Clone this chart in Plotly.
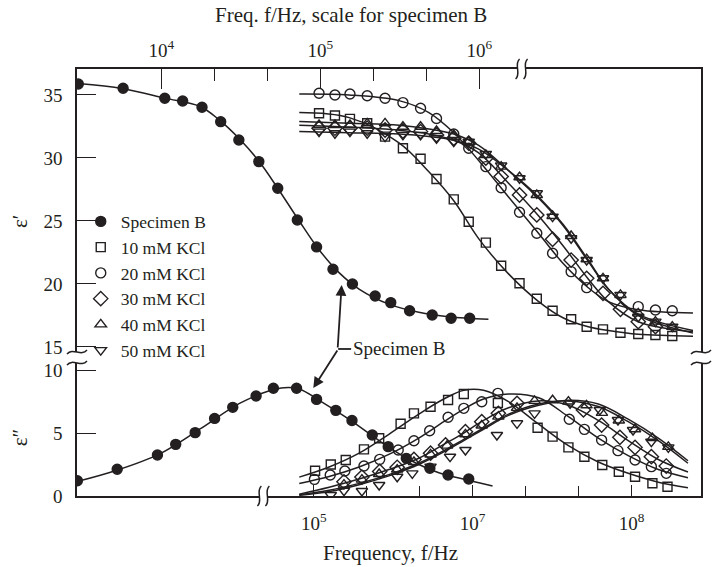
import numpy as np
import plotly.graph_objects as go

INK = "#231f20"
FONT = "Liberation Serif"

# ---------------- Specimen B (top frequency scale) ----------------
specB_f_eps1 = [3.0e3, 5.74e3, 1.05e4, 1.36e4, 1.80e4, 2.36e4, 3.07e4, 4.10e4, 5.39e4, 7.16e4,
                9.46e4, 1.20e5, 1.59e5, 2.21e5, 2.77e5, 3.64e5, 5.05e5, 6.64e5, 8.69e5]
specB_eps1 = [35.87, 35.53, 34.74, 34.52, 34.02, 32.88, 31.43, 29.71, 27.60, 25.08,
              22.94, 21.17, 20.0, 19.05, 18.52, 17.88, 17.54, 17.28, 17.28]
specB_fit1_f = [2.99e3, 5.71e3, 1.05e4, 1.74e4, 2.32e4, 3.10e4, 4.13e4, 5.52e4, 7.36e4, 9.83e4,
                1.31e5, 1.75e5, 2.70e5, 4.16e5, 6.41e5, 1.14e6]
specB_fit1 = [35.9, 35.5, 34.75, 34.1, 33.0, 31.5, 29.7, 27.4, 25.0, 22.7,
              20.9, 19.6, 18.4, 17.75, 17.4, 17.2]

specB_f_eps2 = [2.96e3, 5.27e3, 9.44e3, 1.23e4, 1.63e4, 2.16e4, 2.81e4, 3.94e4, 5.06e4, 7.08e4,
                9.46e4, 1.25e5, 1.58e5, 2.12e5, 2.67e5, 3.47e5, 4.88e5, 6.35e5, 8.57e5]
specB_eps2 = [1.21, 2.12, 3.25, 4.10, 5.03, 6.16, 7.04, 7.94, 8.55, 8.55,
              7.67, 6.8, 6.0, 4.84, 3.92, 2.99, 2.20, 1.67, 1.35]
specB_fit2_f = [2.94e3, 5.24e3, 9.75e3, 1.74e4, 3.10e4, 4.78e4, 5.93e4, 7.36e4, 9.83e4, 1.51e5,
                2.34e5, 3.61e5, 5.56e5, 8.57e5, 1.21e6]
specB_fit2 = [1.15, 2.05, 3.35, 5.3, 7.35, 8.35, 8.6, 8.5, 7.6, 6.1,
              4.4, 2.9, 1.85, 1.25, 0.8]

# ---------------- KCl suspensions (bottom frequency scale) ----------------
# eps' (top panel)
k10_f1 = [1.08e6, 1.36e6, 1.69e6, 2.17e6, 2.81e6, 3.64e6, 4.70e6, 5.92e6, 7.60e6, 9.44e6, 1.21e7,
          1.51e7, 1.97e7, 2.53e7, 3.18e7, 4.16e7, 5.21e7, 6.6e7, 8.5e7, 1.10e8, 1.41e8, 1.80e8]
k10_e1 = [33.55, 33.37, 33.1, 32.75, 31.69, 30.77, 29.94, 28.33, 26.71, 24.94, 23.28,
          21.45, 20.06, 18.83, 17.88, 17.2, 16.61, 16.40, 16.13, 16.03, 15.95, 15.87]
k20_f1 = [1.08e6, 1.36e6, 1.69e6, 2.17e6, 2.81e6, 3.64e6, 4.70e6, 5.92e6, 7.60e6, 9.44e6, 1.21e7,
          1.51e7, 1.97e7, 2.53e7, 3.18e7, 4.16e7, 5.21e7, 1.10e8, 1.41e8, 1.80e8]
k20_e1 = [35.13, 35.0, 35.08, 34.94, 34.74, 34.39, 33.94, 33.13, 31.9, 30.77, 29.31,
          27.64, 25.69, 24.02, 22.44, 20.98, 19.71, 18.20, 17.94, 17.88]
k30_f1 = [1.08e6, 1.36e6, 1.69e6, 2.17e6, 2.81e6, 3.64e6, 4.70e6, 5.92e6, 7.60e6, 9.44e6, 1.21e7,
          1.51e7, 1.97e7, 2.53e7, 3.18e7, 4.16e7, 5.21e7, 6.6e7, 8.5e7, 1.10e8, 1.41e8]
k30_e1 = [32.36, 32.36, 32.36, 32.36, 32.22, 32.14, 32.09, 31.83, 31.56, 31.17, 29.98,
          28.52, 27.06, 25.48, 23.55, 21.90, 20.45, 19.26, 17.99, 17.01, 16.61]
k40_f1 = [1.08e6, 1.36e6, 1.69e6, 2.17e6, 2.81e6, 3.64e6, 4.70e6, 5.92e6, 7.60e6, 9.44e6, 1.21e7,
          1.51e7, 1.97e7, 2.53e7, 3.18e7, 4.16e7, 5.21e7, 6.6e7, 8.5e7, 1.10e8, 1.41e8, 1.80e8]
k40_e1 = [32.62, 32.62, 32.62, 32.75, 32.75, 32.48, 32.48, 32.14, 31.83, 31.29, 30.24,
          29.31, 28.47, 27.06, 25.40, 23.81, 21.96, 20.45, 19.13, 17.67, 17.01, 16.61]
k50_f1 = [1.08e6, 1.36e6, 1.69e6, 2.17e6, 2.81e6, 3.64e6, 4.70e6, 5.92e6, 7.60e6, 9.44e6, 1.21e7,
          1.51e7, 1.97e7, 2.53e7, 3.18e7, 4.16e7, 5.21e7, 6.6e7, 8.5e7, 1.10e8, 1.41e8, 1.80e8]
k50_e1 = [32.09, 31.96, 32.09, 31.96, 31.69, 31.83, 31.83, 31.56, 31.29, 31.29, 30.32,
          29.4, 28.39, 27.20, 25.34, 23.63, 21.90, 20.45, 19.13, 17.40, 17.01, 16.61]

fit_top_f = [8.11e5, 1.67e6, 3.44e6, 5.30e6, 7.60e6, 1.09e7, 1.68e7, 2.60e7, 3.72e7, 5.33e7,
             7.13e7, 1.10e8, 2.43e8]
fit10_top = [33.6, 33.2, 31.2, 28.9, 26.6, 23.6, 20.8, 18.6, 17.3, 16.6, 16.3, 16.0, 15.85]
fit20_top = [35.08, 35.0, 34.55, 33.6, 32.0, 29.8, 26.9, 24.0, 21.6, 19.7, 18.6, 17.95, 17.7]
fit30_top = [32.6, 32.45, 32.2, 31.9, 31.4, 30.4, 28.0, 25.4, 23.0, 20.4, 18.6, 17.0, 16.2]
fit40_top = [32.9, 32.75, 32.6, 32.3, 31.9, 31.0, 29.0, 26.8, 24.6, 21.8, 19.6, 17.6, 16.3]
fit50_top = [32.1, 32.0, 31.9, 31.7, 31.4, 30.7, 29.0, 26.9, 24.7, 21.9, 19.6, 17.5, 16.1]

# eps'' (bottom panel)
k10_f2 = [1.02e6, 1.28e6, 1.59e6, 2.07e6, 2.58e6, 3.52e6, 4.27e6, 5.43e6, 7.0e6, 8.79e6,
          1.44e7, 2.56e7, 3.18e7, 4.0e7, 5.04e7, 6.53e7, 8.3e7, 1.05e8, 1.35e8, 1.68e8]
k10_e2 = [2.01, 2.5, 2.86, 3.7, 4.58, 5.74, 6.56, 7.09, 7.62, 8.10,
          7.38, 5.42, 4.71, 3.86, 3.12, 2.46, 1.93, 1.53, 1.01, 0.74]
k20_f2 = [1.01e6, 1.27e6, 1.57e6, 2.07e6, 2.60e6, 3.40e6, 4.27e6, 5.36e6, 7.0e6, 8.79e6,
          1.14e7, 1.44e7, 4.05e7, 5.04e7, 6.47e7, 8.2e7, 1.05e8, 1.33e8, 1.65e8]
k20_e2 = [1.32, 1.67, 1.98, 2.38, 2.91, 3.65, 4.39, 5.18, 6.25, 6.96,
          7.48, 8.15, 6.09, 5.29, 4.44, 3.60, 2.86, 2.33, 1.80]
k30_f2 = [1.55e6, 2.01e6, 2.60e6, 3.35e6, 4.27e6, 5.43e6, 6.75e6, 9.0e6, 1.14e7, 1.45e7,
          1.90e7, 4.97e7, 6.47e7, 8.43e7, 1.05e8, 1.33e8, 1.65e8]
k30_e2 = [1.13, 1.5, 1.95, 2.28, 2.9, 3.4, 4.05, 5.10, 5.90, 6.56,
          7.36, 6.83, 5.63, 4.66, 3.86, 3.12, 2.38]
k40_f2 = [1.55e6, 2.01e6, 2.58e6, 3.35e6, 4.27e6, 5.43e6, 6.9e6, 9.0e6, 1.14e7, 1.45e7,
          1.90e7, 2.45e7, 3.18e7, 4.0e7, 5.2e7, 6.5e7, 8.3e7, 1.05e8, 1.35e8, 1.70e8]
k40_e2 = [0.9, 1.3, 1.75, 2.1, 2.7, 3.3, 4.0, 4.9, 5.6, 6.3,
          7.0, 7.55, 7.6, 7.5, 7.2, 6.6, 6.0, 5.3, 4.6, 3.9]
k50_f2 = [1.28e6, 1.55e6, 2.01e6, 2.58e6, 3.35e6, 4.17e6, 5.43e6, 7.2e6, 9.0e6, 1.42e7,
          1.90e7, 2.45e7, 4.1e7, 6.3e7, 8.2e7, 1.02e8, 1.33e8, 1.70e8]
k50_e2 = [0.08, 0.42, 0.4, 0.87, 1.53, 1.80, 2.33, 3.12, 3.65, 4.84,
          5.77, 6.56, 7.36, 6.83, 6.03, 5.24, 4.31, 3.86]

fit_bot_f = [8.11e5, 1.25e6, 1.93e6, 2.97e6, 4.58e6, 6.58e6, 8.79e6, 1.17e7, 1.68e7, 2.60e7,
             4.00e7, 6.17e7, 9.51e7, 1.47e8, 2.26e8]
fit10_bot = [1.5, 2.3, 3.4, 4.9, 6.5, 7.7, 8.4, 8.4, 7.5, 5.7, 4.0, 2.7, 1.8, 1.1, 0.65]
fit20_bot = [1.0, 1.55, 2.3, 3.3, 4.6, 5.9, 6.9, 7.7, 8.1, 7.8, 6.3, 4.6, 3.2, 2.1, 1.45]
fit30_bot = [0.15, 0.7, 1.35, 2.1, 3.0, 4.1, 5.0, 6.0, 7.0, 7.55, 7.2, 6.0, 4.4, 2.9, 1.9]
fit40_bot = [0.1, 0.45, 1.0, 1.7, 2.6, 3.6, 4.5, 5.4, 6.5, 7.3, 7.55, 7.1, 5.9, 4.4, 2.6]
fit50_bot = [0.05, 0.35, 0.9, 1.6, 2.5, 3.5, 4.4, 5.3, 6.4, 7.2, 7.6, 7.3, 6.1, 4.6, 2.8]

# axis tick labels
top_tickvals = [1e4, 1e5, 1e6]
top_ticktext = ["10<sup>4</sup>", "10<sup>5</sup>", "10<sup>6</sup>"]
bot_tickvals = [1e6, 1e7, 1e8]
bot_ticktext = ["10<sup>5</sup>", "10<sup>7</sup>", "10<sup>8</sup>"]

fig = go.Figure()


def line(xs, ys, xa, ya):
    fig.add_trace(go.Scatter(x=xs, y=ys, mode="lines", xaxis=xa, yaxis=ya,
                             line=dict(color=INK, width=1.5, shape="spline", smoothing=1.0),
                             showlegend=False, hoverinfo="skip"))


def pts(xs, ys, xa, ya, sym, size, name, show):
    fig.add_trace(go.Scatter(x=xs, y=ys, mode="markers", xaxis=xa, yaxis=ya, name=name,
                             showlegend=show,
                             marker=dict(symbol=sym, size=size, color=INK,
                                         line=dict(color=INK, width=1.4))))


# fit lines
line(specB_fit1_f, specB_fit1, "x2", "y")
line(specB_fit2_f, specB_fit2, "x2", "y2")
for fy in (fit10_top, fit20_top, fit30_top, fit40_top, fit50_top):
    line(fit_top_f, fy, "x", "y")
for fy in (fit10_bot, fit20_bot, fit30_bot, fit40_bot, fit50_bot):
    line(fit_bot_f, fy, "x", "y2")

# markers
pts(specB_f_eps1, specB_eps1, "x2", "y", "circle", 10, "Specimen B", True)
pts(specB_f_eps2, specB_eps2, "x2", "y2", "circle", 10, "Specimen B", False)
series = [
    (k10_f1, k10_e1, k10_f2, k10_e2, "square-open", 9, "10 mM KCl"),
    (k20_f1, k20_e1, k20_f2, k20_e2, "circle-open", 10, "20 mM KCl"),
    (k30_f1, k30_e1, k30_f2, k30_e2, "diamond-open", 11, "30 mM KCl"),
    (k40_f1, k40_e1, k40_f2, k40_e2, "triangle-up-open", 10, "40 mM KCl"),
    (k50_f1, k50_e1, k50_f2, k50_e2, "triangle-down-open", 10, "50 mM KCl"),
]
for f1, e1, f2, e2, sym, sz, nm in series:
    pts(f1, e1, "x", "y", sym, sz, nm, True)
    pts(f2, e2, "x", "y2", sym, sz, nm, False)

FS = 19
tickfont = dict(family=FONT, size=FS, color=INK)
axis_common = dict(showgrid=False, zeroline=False, showline=True, linecolor=INK, linewidth=1.5,
                   ticks="inside", tickcolor=INK, tickwidth=1.3, tickfont=tickfont)

fig.update_layout(
    width=712, height=567,
    margin=dict(l=77, r=9, t=69, b=71),
    paper_bgcolor="white", plot_bgcolor="rgba(0,0,0,0)",
    font=dict(family=FONT, size=FS, color=INK),
    xaxis=dict(type="log", range=[4.511, 8.436], domain=[0, 1], anchor="y2", side="bottom",
               tickvals=bot_tickvals, ticktext=bot_ticktext, ticklen=11, ticklabelstandoff=9,
               minor=dict(tickvals=[10 ** 6.333, 10 ** 6.667, 10 ** 7.333, 10 ** 7.667],
                          ticklen=10, ticks="inside", tickcolor=INK, tickwidth=1.3),
               **axis_common),
    xaxis2=dict(type="log", range=[3.469, 7.394], domain=[0, 1], anchor="y", side="top",
                overlaying="x",
                tickvals=top_tickvals, ticktext=top_ticktext, ticklen=20, ticklabelstandoff=3,
                minor=dict(tickvals=[10 ** 4.333, 10 ** 4.667, 10 ** 5.333, 10 ** 5.667],
                           ticklen=12, ticks="inside", tickcolor=INK, tickwidth=1.3),
                **axis_common),
    yaxis=dict(range=[14.6, 37.06], domain=[0.3372, 1], anchor="x", mirror=True,
               tickvals=[15, 20, 25, 30, 35], ticklen=19, ticklabelstandoff=9, **axis_common),
    yaxis2=dict(range=[0, 10.56], domain=[0, 0.3115], anchor="x", mirror=True,
                tickvals=[0, 5, 10], ticklen=19, ticklabelstandoff=9, **axis_common),
    legend=dict(x=0.006, y=0.685, xanchor="left", yanchor="top", bgcolor="rgba(0,0,0,0)",
                font=dict(family=FONT, size=17.5, color=INK), tracegroupgap=0,
                itemwidth=30),
)

# axis titles
TF = dict(family=FONT, size=21, color=INK)
fig.add_annotation(text="Freq. f/Hz, scale for specimen B", xref="paper", yref="paper",
                   x=0.4393, y=1.1265, xanchor="center", yanchor="middle",
                   showarrow=False, font=TF)
fig.add_annotation(text="Frequency, f/Hz", xref="paper", yref="paper",
                   x=0.5032, y=-0.1335, xanchor="center", yanchor="middle",
                   showarrow=False, font=TF)
fig.add_annotation(text="ε′", xref="paper", yref="paper", x=-0.091, y=0.642, textangle=-90,
                   xanchor="center", yanchor="middle", showarrow=False, font=TF)
fig.add_annotation(text="ε″", xref="paper", yref="paper", x=-0.091, y=0.138, textangle=-90,
                   xanchor="center", yanchor="middle", showarrow=False, font=TF)

# "Specimen B" pointer
fig.add_annotation(text="Specimen B", xref="paper", yref="paper", x=0.4393, y=0.3443,
                   xanchor="left", yanchor="middle", showarrow=False,
                   font=dict(family=FONT, size=FS, color=INK))
fig.add_shape(type="line", xref="paper", yref="paper", x0=0.4185, x1=0.4393, y0=0.3443, y1=0.3443,
              line=dict(color=INK, width=1.8))
fig.add_annotation(text="", xref="x2", yref="y", x=np.log10(1.36e5), y=19.92, ax=-4, ay=64,
                   showarrow=True, arrowhead=2, arrowsize=1.2, arrowwidth=1.8, arrowcolor=INK)
fig.add_annotation(text="", xref="x2", yref="y2", x=np.log10(9.02e4), y=8.57, ax=25, ay=-39,
                   showarrow=True, arrowhead=2, arrowsize=1.2, arrowwidth=1.8, arrowcolor=INK)

# axis break marks
def vbreak(xp, yp):
    fig.add_shape(type="rect", xref="paper", yref="paper", xsizemode="pixel", ysizemode="pixel",
                  xanchor=xp, yanchor=yp, x0=-4, x1=4, y0=-3, y1=3,
                  fillcolor="white", line=dict(width=0), layer="above")
    for dx in (-4, 4):
        fig.add_shape(type="path", xref="paper", yref="paper", xsizemode="pixel",
                      ysizemode="pixel", xanchor=xp, yanchor=yp,
                      path=f"M {dx+2},10 C {dx-4},5 {dx+4},-5 {dx-2},-10",
                      line=dict(color=INK, width=1.5), layer="above")


def hbreak(xp, yp):
    fig.add_shape(type="path", xref="paper", yref="paper", xsizemode="pixel", ysizemode="pixel",
                  xanchor=xp, yanchor=yp, path="M -10,-2 C -4,5 4,-5 10,2",
                  line=dict(color=INK, width=1.5), layer="above")


vbreak(0.7125, 1.0)
vbreak(0.2987, 0.0)
for xp in (0.0, 1.0):
    hbreak(xp, 0.3372)
    hbreak(xp, 0.3115)

fig.write_html("out.html")
